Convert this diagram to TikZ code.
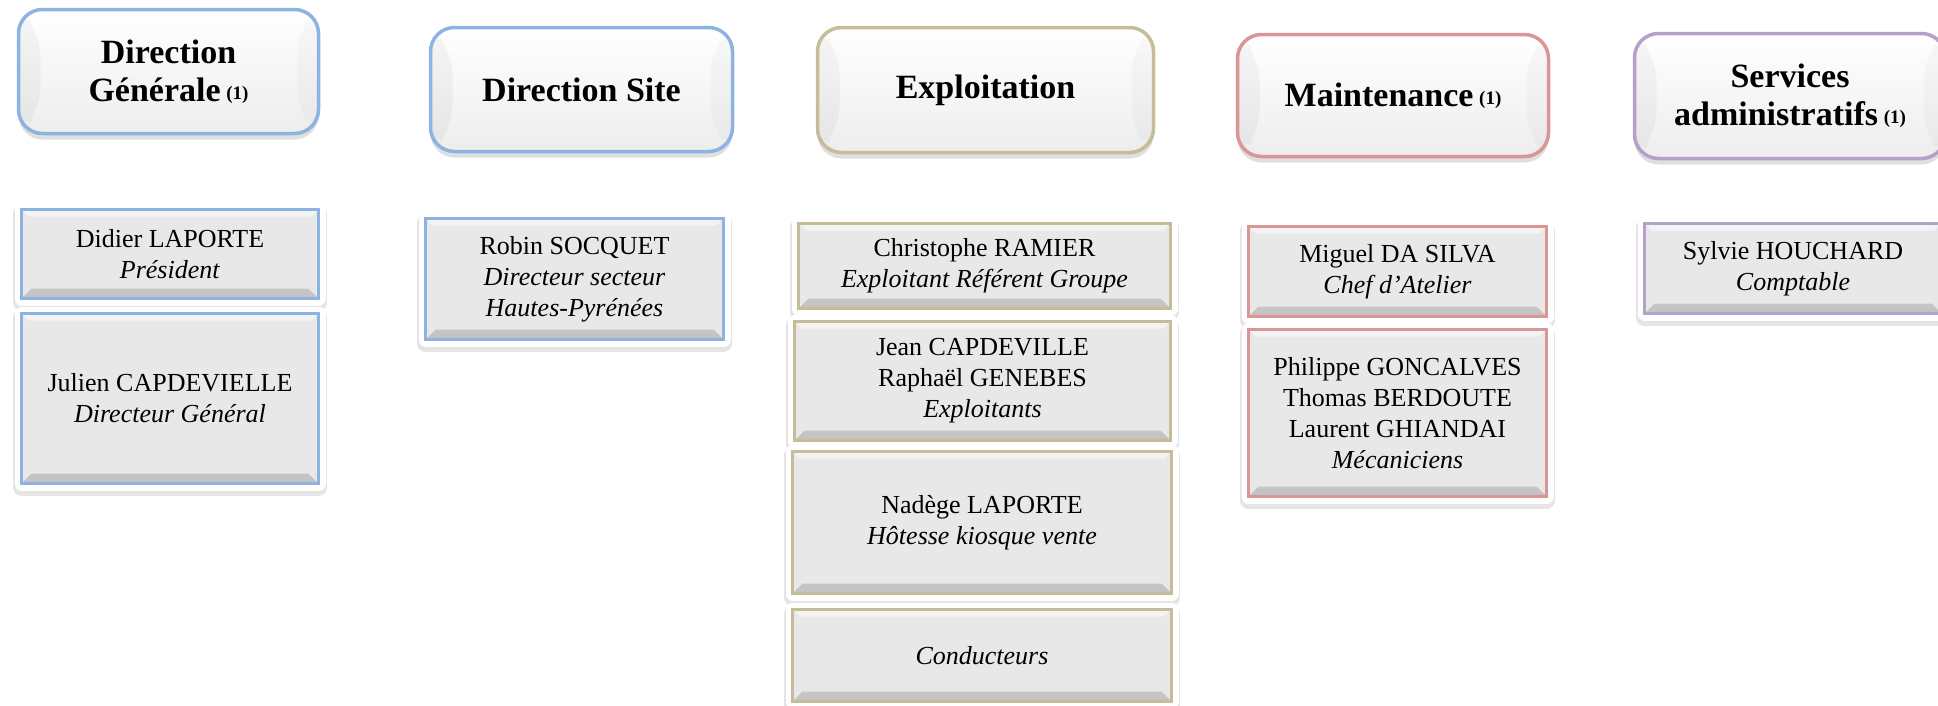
\documentclass[tikz,border=0pt]{standalone}
\usepackage{fontspec}
\setmainfont{Liberation Serif}
\usetikzlibrary{shadows}

\definecolor{bluebord}{HTML}{8DB3E2}
\definecolor{olivebord}{HTML}{C4BD97}
\definecolor{redbord}{HTML}{D99694}
\definecolor{violetbord}{HTML}{B3A2C7}
\definecolor{boxfill}{HTML}{E8E8E8}

\newcommand{\refnote}{\,\raisebox{2pt}{\fontsize{19}{19}\selectfont(1)}}

\begin{document}
\begin{tikzpicture}[x=1pt, y=-1pt,
		headbox/.style={draw=#1, line width=3.5pt, rounded corners=24pt,
			top color=white, bottom color=gray!14,
			drop shadow={shadow xshift=0pt, shadow yshift=-6pt, opacity=0.25, fill=gray},
			inner sep=0pt, align=center, font=\fontsize{34}{38}\selectfont\bfseries,
			path picture={
				\fill[black, opacity=0.035] (path picture bounding box.north west)
					-- ([shift={(22pt,-22pt)}]path picture bounding box.north west)
					-- ([shift={(22pt,22pt)}]path picture bounding box.south west)
					-- (path picture bounding box.south west) -- cycle;
				\fill[black, opacity=0.025] (path picture bounding box.north east)
					-- ([shift={(-22pt,-22pt)}]path picture bounding box.north east)
					-- ([shift={(-22pt,22pt)}]path picture bounding box.south east)
					-- (path picture bounding box.south east) -- cycle;
			}},
		staffbox/.style={draw=#1, line width=3pt, fill=boxfill,
			preaction={draw=black, draw opacity=0.10, line width=17pt, line join=round, transform canvas={yshift=-4pt}},
			preaction={draw=white, line width=14pt, line join=round},
			inner sep=0pt, align=center, font=\fontsize{26}{31}\selectfont,
			path picture={
				\shade[top color=boxfill, bottom color=gray!48] (path picture bounding box.south west)
					-- (path picture bounding box.south east)
					-- ([shift={(-10pt,10pt)}]path picture bounding box.south east)
					-- ([shift={(10pt,10pt)}]path picture bounding box.south west) -- cycle;
				\fill[white, opacity=0.5] (path picture bounding box.north west)
					-- (path picture bounding box.north east)
					-- ([shift={(-7pt,-7pt)}]path picture bounding box.north east)
					-- ([shift={(7pt,-7pt)}]path picture bounding box.north west) -- cycle;
			}}]
	\useasboundingbox (0,0) rectangle (1938,705);

	% Header boxes
	\node[headbox=bluebord, minimum width=300pt, minimum height=124pt] (dirgen) at (168.5,71.5) {Direction\\Générale\refnote};
	\node[headbox=bluebord, minimum width=302pt, minimum height=124pt] (dirsite) at (581.5,89.5) {Direction Site};
	\node[headbox=olivebord, minimum width=336pt, minimum height=125pt] (exploit) at (985.5,90) {Exploitation};
	\node[headbox=redbord, minimum width=311pt, minimum height=122pt] (maint) at (1393,95.5) {Maintenance\refnote};
	\node[headbox=violetbord, minimum width=311pt, minimum height=125pt] (services) at (1790,96) {Services\\administratifs\refnote};

	% Direction Generale
	\node[staffbox=bluebord, minimum width=297pt, minimum height=89pt] (laporte) at (170,254) {Didier LAPORTE\\\textit{Président}};
	\node[staffbox=bluebord, minimum width=297pt, minimum height=170pt] (capdevielle) at (170,398.5) {Julien CAPDEVIELLE\\\textit{Directeur Général}};

	% Direction Site
	\node[staffbox=bluebord, minimum width=298pt, minimum height=121pt] (socquet) at (574.5,279) {Robin SOCQUET\\\textit{Directeur secteur}\\\textit{Hautes-Pyrénées}};

	% Exploitation
	\node[staffbox=olivebord, minimum width=372pt, minimum height=85pt] (ramier) at (984.5,266) {Christophe RAMIER\\\textit{Exploitant Référent Groupe}};
	\node[staffbox=olivebord, minimum width=376pt, minimum height=119pt] (exploitants) at (982.5,381) {Jean CAPDEVILLE\\Raphaël GENEBES\\\textit{Exploitants}};
	\node[staffbox=olivebord, minimum width=379pt, minimum height=142pt] (hotesse) at (982,522.5) {Nadège LAPORTE\\\textit{Hôtesse kiosque vente}};
	\node[staffbox=olivebord, minimum width=379pt, minimum height=92pt] (conducteurs) at (982,655.5) {\textit{Conducteurs}};

	% Maintenance
	\node[staffbox=redbord, minimum width=298pt, minimum height=90pt] (dasilva) at (1397.5,271.5) {Miguel DA SILVA\\\textit{Chef d’Atelier}};
	\node[staffbox=redbord, minimum width=298pt, minimum height=167pt] (mecaniciens) at (1397.5,413) {Philippe GONCALVES\\Thomas BERDOUTE\\Laurent GHIANDAI\\\textit{Mécaniciens}};

	% Services administratifs
	\node[staffbox=violetbord, minimum width=297pt, minimum height=90pt] (houchard) at (1793,268.5) {Sylvie HOUCHARD\\\textit{Comptable}};
\end{tikzpicture}
\end{document}
